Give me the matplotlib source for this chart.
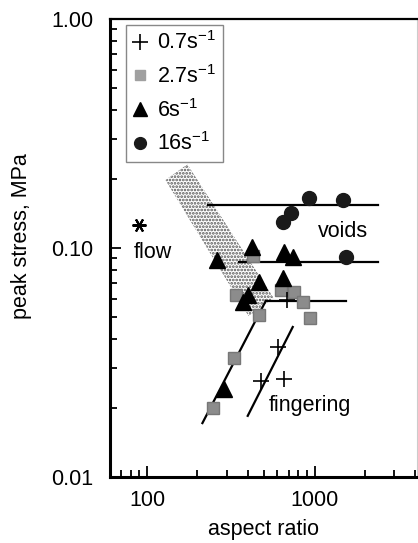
import matplotlib
matplotlib.use("Agg")
import matplotlib.pyplot as plt
from matplotlib.patches import Polygon
from matplotlib.lines import Line2D

plt.rcParams['font.family'] = ['Liberation Sans', 'DejaVu Sans']
plt.rcParams['mathtext.fontset'] = 'custom'
plt.rcParams['mathtext.rm'] = 'Liberation Sans'
plt.rcParams['mathtext.it'] = 'Liberation Sans:italic'
plt.rcParams['mathtext.default'] = 'regular'
plt.rcParams['hatch.linewidth'] = 1.3

# ---- data ----
plus_x = [683, 604, 477, 654]
plus_y = [0.059, 0.037, 0.0263, 0.0268]
square_x = [246, 329, 338, 429, 464, 628, 752, 851, 937]
square_y = [0.020, 0.0331, 0.0623, 0.0923, 0.051, 0.0656, 0.0643, 0.058, 0.0495]
tri_x = [287, 263, 372, 398, 422, 466, 646, 654, 741]
tri_y = [0.0242, 0.0887, 0.058, 0.0623, 0.101, 0.0711, 0.074, 0.096, 0.0914]
circ_x = [646, 721, 925, 1479, 1540]
circ_y = [0.130, 0.142, 0.165, 0.162, 0.0914]

flow_x = [89]
flow_y = [0.126]

h_lines = [([230, 2400], 0.154), ([352, 2400], 0.0869), ([511, 1540], 0.0587)]
s_lines = [([214, 511], [0.0172, 0.0587]), ([399, 741], [0.0185, 0.0452])]

band_x = [128.7, 174, 570, 404]
band_y = [0.198, 0.232, 0.0605, 0.0504]

labels = ['0.7s$^{-1}$', '2.7s$^{-1}$', '6s$^{-1}$', '16s$^{-1}$']

FS = 15.5

fig = plt.figure(figsize=(4.18, 5.43), dpi=100)
ax = fig.add_axes([0.263, 0.1215, 0.735, 0.8435])
ax.set_xscale('log')
ax.set_yscale('log')
ax.set_xlim(60, 4100)
ax.set_ylim(0.01, 1.0)

# shaded band
band = Polygon(list(zip(band_x, band_y)), closed=True, facecolor='none',
               edgecolor='#555555', linewidth=0, hatch='.....', zorder=1)
ax.add_patch(band)

for xs, y in h_lines:
    ax.plot(xs, [y, y], color='black', lw=1.6, zorder=2)
for xs, ys in s_lines:
    ax.plot(xs, ys, color='black', lw=1.6, zorder=2)

ax.plot(square_x, square_y, 's', color='#8c8c8c', mec='#777777', ms=8.5, zorder=3, ls='none')
ax.plot(tri_x, tri_y, '^', color='black', ms=11, zorder=4, ls='none')
ax.plot(circ_x, circ_y, 'o', color='#1a1a1a', ms=10, zorder=4, ls='none')
ax.plot(plus_x, plus_y, '+', color='black', ms=11, mew=1.2, zorder=5, ls='none')
ax.plot(flow_x, flow_y, marker=(6, 2, 90), color='black', ms=10, mew=1.5, ls='none', zorder=5)

ax.text(82.8, 0.0952, 'flow', fontsize=FS, va='center', ha='left')
ax.text(1047, 0.1186, 'voids', fontsize=FS, va='center', ha='left')
ax.text(532, 0.0206, 'fingering', fontsize=FS, va='center', ha='left')

handles = [
    Line2D([], [], marker='+', color='black', ls='none', ms=11, mew=1.2),
    Line2D([], [], marker='s', color='#a0a0a0', ls='none', ms=7),
    Line2D([], [], marker='^', color='black', ls='none', ms=10),
    Line2D([], [], marker='o', color='#1a1a1a', ls='none', ms=8.5),
]
leg = ax.legend(handles, labels, loc='upper left', bbox_to_anchor=(0.052, 0.987),
                borderaxespad=0, fancybox=False, edgecolor='#888888', framealpha=1,
                fontsize=FS, handlelength=0.7, handletextpad=0.45,
                labelspacing=0.5, borderpad=0.3)
leg.get_frame().set_linewidth(1.0)

ax.set_xticks([100, 1000])
ax.set_xticklabels(['100', '1000'])
ax.set_yticks([0.01, 0.1, 1.0])
ax.set_yticklabels(['0.01', '0.10', '1.00'])
ax.tick_params(which='both', direction='in', labelsize=FS, width=1.3)
ax.tick_params(which='major', length=8, pad=12)
ax.tick_params(which='minor', length=5)
ax.tick_params(axis='x', which='major', pad=9)
ax.tick_params(which='both', top=False, right=False)

for s in ['left', 'bottom']:
    ax.spines[s].set_linewidth(2.2)
ax.spines['top'].set_linewidth(1.6)
ax.spines['right'].set_linewidth(0.8)
ax.spines['right'].set_color('#cccccc')

ax.set_xlabel('aspect ratio', fontsize=FS, va='center')
ax.set_ylabel('peak stress, MPa', fontsize=FS, va='center')
ax.xaxis.set_label_coords(0.5, -0.1135)
ax.yaxis.set_label_coords(-0.287, 0.526)

fig.savefig('out.png', dpi=100)
